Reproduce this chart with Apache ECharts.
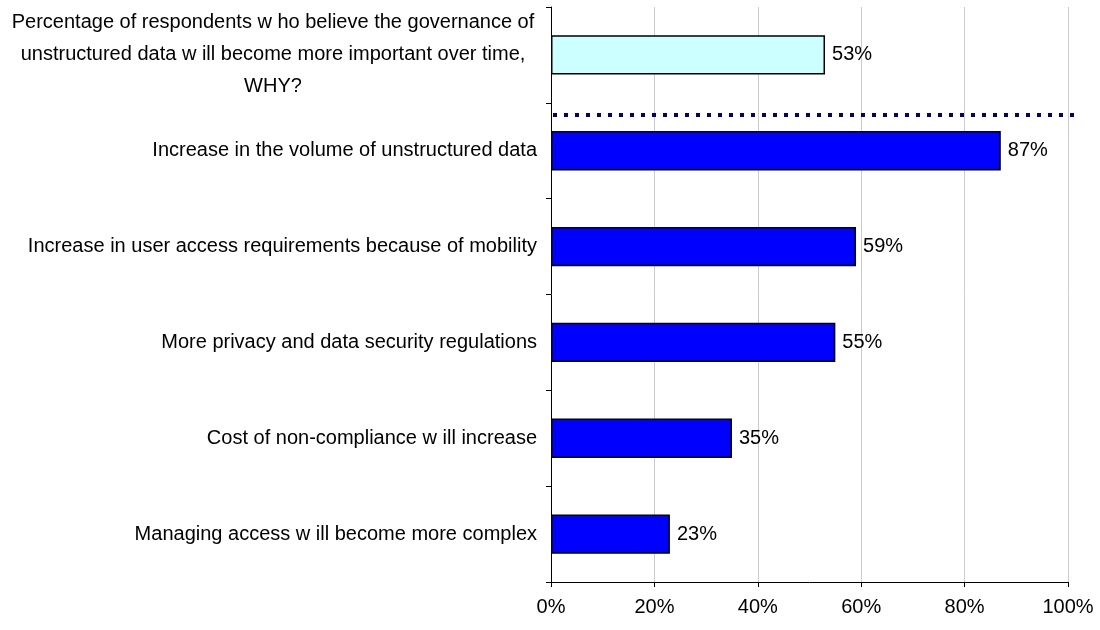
<!DOCTYPE html>
<html>
<head>
<meta charset="utf-8">
<script src="https://cdn.jsdelivr.net/npm/echarts@6/dist/echarts.min.js"></script>
<style>
  html, body { margin: 0; padding: 0; background: #ffffff; }
  #chart { width: 1100px; height: 630px; }
</style>
</head>
<body>
<div id="chart"></div>
<script>
// Survey answers, top to bottom
const categories = [
  'Percentage of respondents w ho believe the governance of\nunstructured data w ill become more important over time,\nWHY?',
  'Increase in the volume of unstructured data',
  'Increase in user access requirements because of mobility',
  'More privacy and data security regulations',
  'Cost of non-compliance w ill increase',
  'Managing access w ill become more complex'
];
const values = [53, 87, 59, 55, 35, 23];
const xTicks = [0, 20, 40, 60, 80, 100];

const FONT = '"Liberation Sans", Arial, sans-serif';

const chart = echarts.init(document.getElementById('chart'), null, { renderer: 'canvas' });

const barData = values.map((v, i) => ({
  value: v,
  itemStyle: { color: i === 0 ? '#CCFFFF' : '#0000FF' }
}));

chart.setOption({
  animation: false,
  backgroundColor: '#ffffff',
  grid: { left: 551, right: 32, top: 7, bottom: 48, containLabel: false },
  xAxis: {
    type: 'value',
    min: xTicks[0],
    max: xTicks[xTicks.length - 1],
    interval: 20,
    axisLine: { show: true, lineStyle: { color: '#000000', width: 1 } },
    axisTick: { show: true, length: 5, lineStyle: { color: '#000000' } },
    axisLabel: {
      formatter: '{value}%',
      color: '#000000',
      fontFamily: FONT,
      fontSize: 20,
      margin: 15
    },
    splitLine: { show: true, lineStyle: { color: '#cccccc', width: 1 } }
  },
  yAxis: {
    type: 'category',
    inverse: true,
    data: categories,
    axisLine: { show: true, lineStyle: { color: '#000000', width: 1 } },
    axisTick: { show: true, length: 5, lineStyle: { color: '#000000' } },
    splitLine: { show: false },
    axisLabel: {
      margin: 14,
      color: '#000000',
      fontFamily: FONT,
      fontSize: 20,
      formatter: function (val) {
        if (val.indexOf('\n') >= 0) {
          return val.split('\n').map(l => '{c|' + l + '}').join('\n');
        }
        return val;
      },
      rich: {
        c: {
          width: 528,
          align: 'center',
          fontFamily: FONT,
          fontSize: 20,
          lineHeight: 32,
          color: '#000000'
        }
      }
    }
  },
  series: [{
    type: 'bar',
    data: barData,
    barWidth: '41%',
    itemStyle: { borderColor: '#000000', borderWidth: 1.5 },
    label: {
      show: true,
      position: 'right',
      distance: 7,
      formatter: '{c}%',
      color: '#000000',
      fontFamily: FONT,
      fontSize: 20
    }
  }]
});

// Dotted separator below the summary row, placed from the axis scales
function drawSeparator() {
  const c0 = chart.convertToPixel({ yAxisIndex: 0 }, 0);
  const c1 = chart.convertToPixel({ yAxisIndex: 0 }, 1);
  const y = c0 + (c1 - c0) * 0.626;
  const x0 = chart.convertToPixel({ xAxisIndex: 0 }, 0);
  const x1 = chart.convertToPixel({ xAxisIndex: 0 }, 102);
  chart.setOption({
    graphic: [{
      type: 'line',
      z: 100,
      shape: { x1: x0 + 2, y1: y, x2: x1, y2: y },
      style: { stroke: '#000080', lineWidth: 4, lineDash: [4, 7] }
    }]
  });
}
drawSeparator();
</script>
</body>
</html>
